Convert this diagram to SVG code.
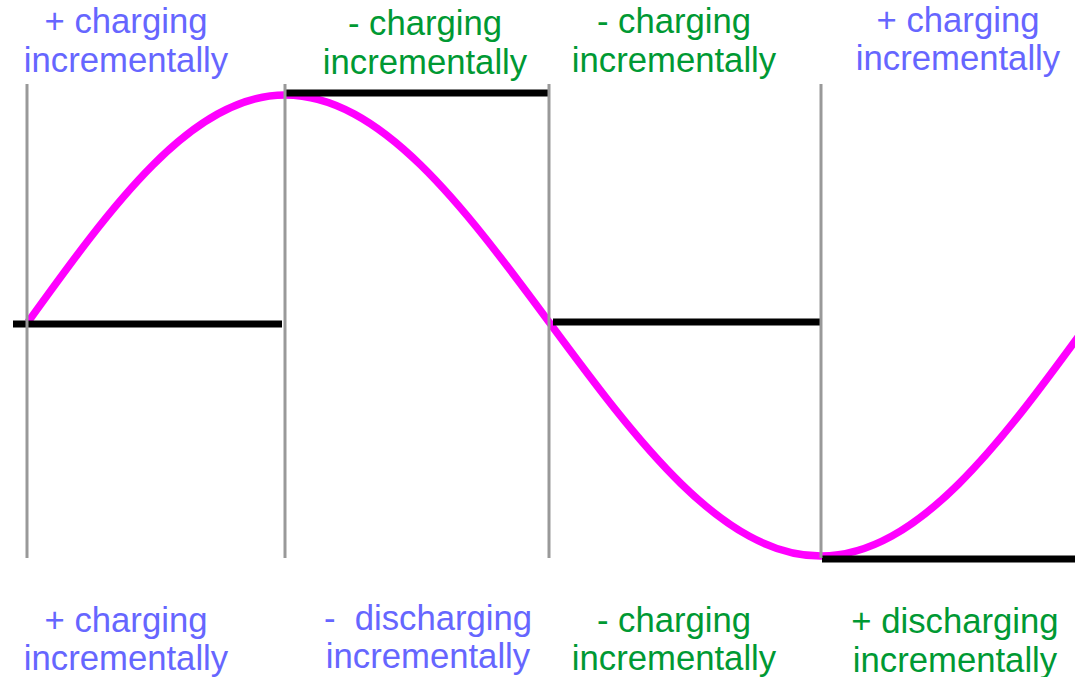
<svg xmlns="http://www.w3.org/2000/svg" width="1075" height="677" viewBox="0 0 1075 677">
<style>
text{font-family:"Liberation Sans",Arial,sans-serif;font-size:34.7px;text-anchor:middle;white-space:pre}
.b{fill:#6666ff}
.g{fill:#009933}
.wave{fill:none;stroke:#ff00ff;stroke-width:7.5}
.lvl{stroke:#000;stroke-width:7}
.div{stroke:#999;stroke-width:3}
</style>
<rect width="1075" height="677" fill="#fff"/>
<g id="curve">
<path class="wave" d="M28,322 C111.8,205.7 192,95 285,95 C380.5,95 462.9,205.7 549,322 C637.7,441.9 722.6,556 821,556 C918,556 1001.6,441.9 1089,322"/>
</g>
<g id="levels">
<line class="lvl" x1="13" y1="324" x2="282" y2="324"/>
<line class="lvl" x1="285" y1="93" x2="548" y2="93"/>
<line class="lvl" x1="553" y1="322" x2="820" y2="322"/>
<line class="lvl" x1="822" y1="559" x2="1075" y2="559"/>
</g>
<g id="dividers">
<line class="div" x1="27" y1="84" x2="27" y2="558"/>
<line class="div" x1="285" y1="84" x2="285" y2="558"/>
<line class="div" x1="549" y1="84" x2="549" y2="558"/>
<line class="div" x1="821" y1="84" x2="821" y2="558"/>
</g>
<g id="label-top-1" class="b"><text x="126" y="33">+ charging</text><text x="126" y="72">incrementally</text></g>
<g id="label-top-2" class="g"><text x="425" y="35">- charging</text><text x="425" y="74">incrementally</text></g>
<g id="label-top-3" class="g"><text x="674" y="33">- charging</text><text x="674" y="72">incrementally</text></g>
<g id="label-top-4" class="b"><text x="958" y="32">+ charging</text><text x="958" y="70">incrementally</text></g>
<g id="label-bot-1" class="b"><text x="126" y="632">+ charging</text><text x="126" y="670">incrementally</text></g>
<g id="label-bot-2" class="b"><text x="428" y="630">-  discharging</text><text x="428" y="668">incrementally</text></g>
<g id="label-bot-3" class="g"><text x="674" y="632">- charging</text><text x="674" y="670">incrementally</text></g>
<g id="label-bot-4" class="g"><text x="955" y="633">+ discharging</text><text x="955" y="672">incrementally</text></g>
</svg>
